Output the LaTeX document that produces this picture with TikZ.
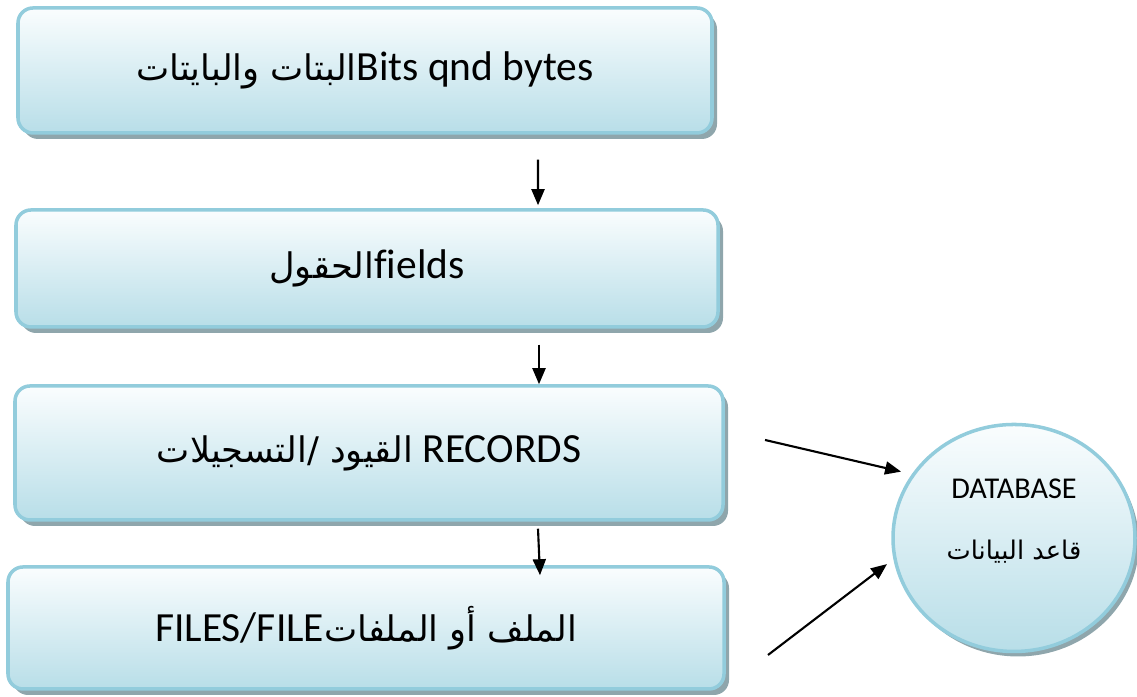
\documentclass[tikz,border=0pt]{standalone}
\usepackage{fontspec}
\setmainfont[Ligatures=NoCommon]{Carlito}
\newfontfamily\arabicfont[Script=Arabic, Scale=0.85]{DejaVu Sans}
\TeXXeTstate=1
\usepackage{xcolor}
\definecolor{colorTop}{RGB}{250,253,254}
\definecolor{colorBottom}{RGB}{184,222,232}
\definecolor{colorBorder}{RGB}{146,204,220}
\definecolor{colorShadow}{RGB}{143,166,172}
\usepackage{tikz}
\usetikzlibrary{arrows.meta, shapes.geometric, shadows, positioning}
\newcommand{\ar}[1]{{\arabicfont\beginR #1\endR}}
\tikzset{
  levelbox/.style={rectangle, rounded corners=0.15cm, draw=colorBorder, line width=1pt,
    top color=colorTop, bottom color=colorBottom, inner sep=0pt, font=\fontsize{11.8}{14}\selectfont,
    drop shadow={shadow xshift=0.05cm, shadow yshift=-0.06cm, fill=colorShadow, opacity=1}},
  dbcircle/.style={ellipse, draw=colorBorder, line width=1pt, minimum width=2.42cm, minimum height=2.27cm,
    top color=colorTop, bottom color=colorBottom, inner sep=0pt, align=center, font=\fontsize{8.6}{10}\selectfont,
    drop shadow={shadow xshift=0.04cm, shadow yshift=-0.05cm, fill=colorShadow, opacity=1}}
}

\begin{document}
\begin{tikzpicture}[>={Triangle[length=1.6mm, width=1.3mm]}, line width=0.6pt]
\useasboundingbox (0,0) rectangle (11.37,6.97);
\node[levelbox, minimum width=6.94cm, minimum height=1.25cm] (bits) at (3.65,6.265) {\ar{البتات والبايتات}Bits qnd bytes};
\node[levelbox, minimum width=7.02cm, minimum height=1.17cm] (fields) at (3.67,4.285) {\ar{الحقول}fields};
\node[levelbox, minimum width=7.08cm, minimum height=1.34cm] (records) at (3.69,2.44) {\ar{القيود /التسجيلات} RECORDS};
\node[levelbox, minimum width=7.16cm, minimum height=1.22cm] (files) at (3.66,0.69) {FILES/FILE\ar{الملف أو الملفات}};
\node[dbcircle] (db) at (10.14,1.59) {\raisebox{0.8mm}[0pt][0pt]{\begin{tabular}{@{}c@{}}DATABASE\\[2.6mm]\ar{قاعد البيانات}\end{tabular}}};
\coordinate (recsrc) at (7.65,2.57);
\coordinate (filesrc) at (7.68,0.42);
\draw [->] ([xshift=1.73cm, yshift=-0.25cm]bits.south) -- ([xshift=1.71cm, yshift=0.03cm]fields.north);
\draw [->] ([xshift=1.72cm, yshift=-0.16cm]fields.south) -- ([xshift=1.70cm]records.north);
\draw [->] ([xshift=1.69cm, yshift=-0.07cm]records.south) -- ([xshift=1.74cm, yshift=-0.10cm]files.north);
\draw [->, shorten >=1.1mm] (recsrc) -- (db.148);
\draw [->, shorten >=0.8mm] (filesrc) -- (db.190);
\end{tikzpicture}
\end{document}
